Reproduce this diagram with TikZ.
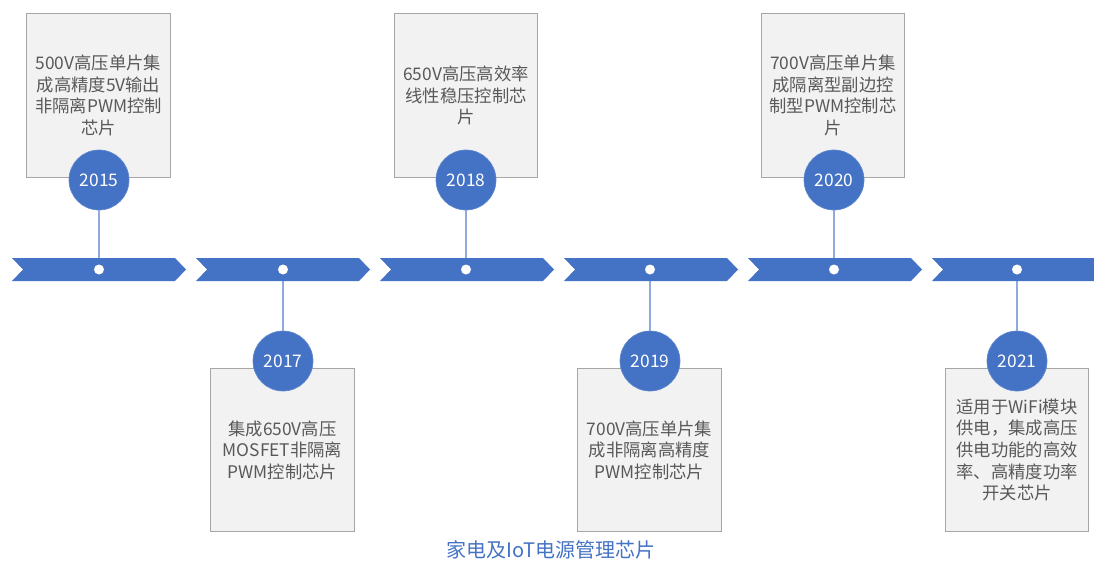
\documentclass[tikz,border=0pt]{standalone}
\usepackage{fontspec}
\setmainfont{Noto Sans CJK SC}
\usepackage{tikz}
\usetikzlibrary{positioning}
\definecolor{chipblue}{HTML}{4472C4}
\definecolor{stemblue}{HTML}{8FAADC}
\definecolor{boxfill}{HTML}{F2F2F2}
\definecolor{boxline}{HTML}{A6A6A6}
\definecolor{notegray}{HTML}{595959}

\begin{document}
\begin{tikzpicture}[x=0.75pt,y=-0.75pt,
    note/.style={draw=boxline,line width=0.8pt,fill=boxfill,minimum width=107.5pt,minimum height=122.5pt,
                 inner sep=2pt,align=center,text=notegray,font=\fontsize{13}{16.2}\selectfont},
    year/.style={circle,fill=chipblue,draw=chipblue!85!white,line width=0.5pt,minimum size=45pt,inner sep=0pt,
                 text=white,font=\fontsize{13}{15}\selectfont},
    stem/.style={draw=stemblue,line width=1pt},
    band/.style={fill=chipblue},
    hole/.style={circle,fill=white,minimum size=7.5pt,inner sep=0pt}]
     \useasboundingbox (0,0) rectangle (1094,561);
     % description boxes
     \node[note] (b15) at (98.5,95.5) {500V高压单片集\\成高精度5V输出\\非隔离PWM控制\\芯片};
     \node[note] (b18) at (466,95.5) {650V高压高效率\\线性稳压控制芯\\片};
     \node[note] (b20) at (833,95.5) {700V高压单片集\\成隔离型副边控\\制型PWM控制芯\\片};
     \node[note] (b17) at (282.5,450) {集成650V高压\\MOSFET非隔离\\PWM控制芯片};
     \node[note] (b19) at (649.5,450) {700V高压单片集\\成非隔离高精度\\PWM控制芯片};
     \node[note] (b21) at (1017,450) {适用于WiFi模块\\供电，集成高压\\供电功能的高效\\率、高精度功率\\开关芯片};
     % points on the band
     \coordinate (p15) at (99,269.5);
     \coordinate (p17) at (283,269.5);
     \coordinate (p18) at (466,269.5);
     \coordinate (p19) at (650,269.5);
     \coordinate (p20) at (834,269.5);
     \coordinate (p21) at (1017,269.5);
     % year circles
     \node[year] (y15) at (99,180) {2015};
     \node[year] (y18) at (466,180) {2018};
     \node[year] (y20) at (834,180) {2020};
     \node[year] (y17) at (283,361) {2017};
     \node[year] (y19) at (650,361) {2019};
     \node[year] (y21) at (1017,361) {2021};
     \draw[stem] (y15) -- (p15);
     \draw[stem] (y18) -- (p18);
     \draw[stem] (y20) -- (p20);
     \draw[stem] (y17) -- (p17);
     \draw[stem] (y19) -- (p19);
     \draw[stem] (y21) -- (p21);
     % chevron band
     \fill[band] (12,258) -- (175,258) -- (186,269.5) -- (175,281) -- (12,281) -- (23,269.5) -- cycle;
     \fill[band] (196,258) -- (359,258) -- (370,269.5) -- (359,281) -- (196,281) -- (207,269.5) -- cycle;
     \fill[band] (380,258) -- (543,258) -- (554,269.5) -- (543,281) -- (380,281) -- (391,269.5) -- cycle;
     \fill[band] (564,258) -- (727,258) -- (738,269.5) -- (727,281) -- (564,281) -- (575,269.5) -- cycle;
     \fill[band] (748,258) -- (911,258) -- (922,269.5) -- (911,281) -- (748,281) -- (759,269.5) -- cycle;
     \fill[band] (932,258) -- (1094,258) -- (1094,281) -- (932,281) -- (943,269.5) -- cycle;
     \node[hole] (d15) at (p15) {};
     \node[hole] (d17) at (p17) {};
     \node[hole] (d18) at (p18) {};
     \node[hole] (d19) at (p19) {};
     \node[hole] (d20) at (p20) {};
     \node[hole] (d21) at (p21) {};
     % caption
     \node[text=chipblue,font=\fontsize{15}{18}\selectfont] (title) at (551,550) {家电及IoT电源管理芯片};
\end{tikzpicture}
\end{document}
